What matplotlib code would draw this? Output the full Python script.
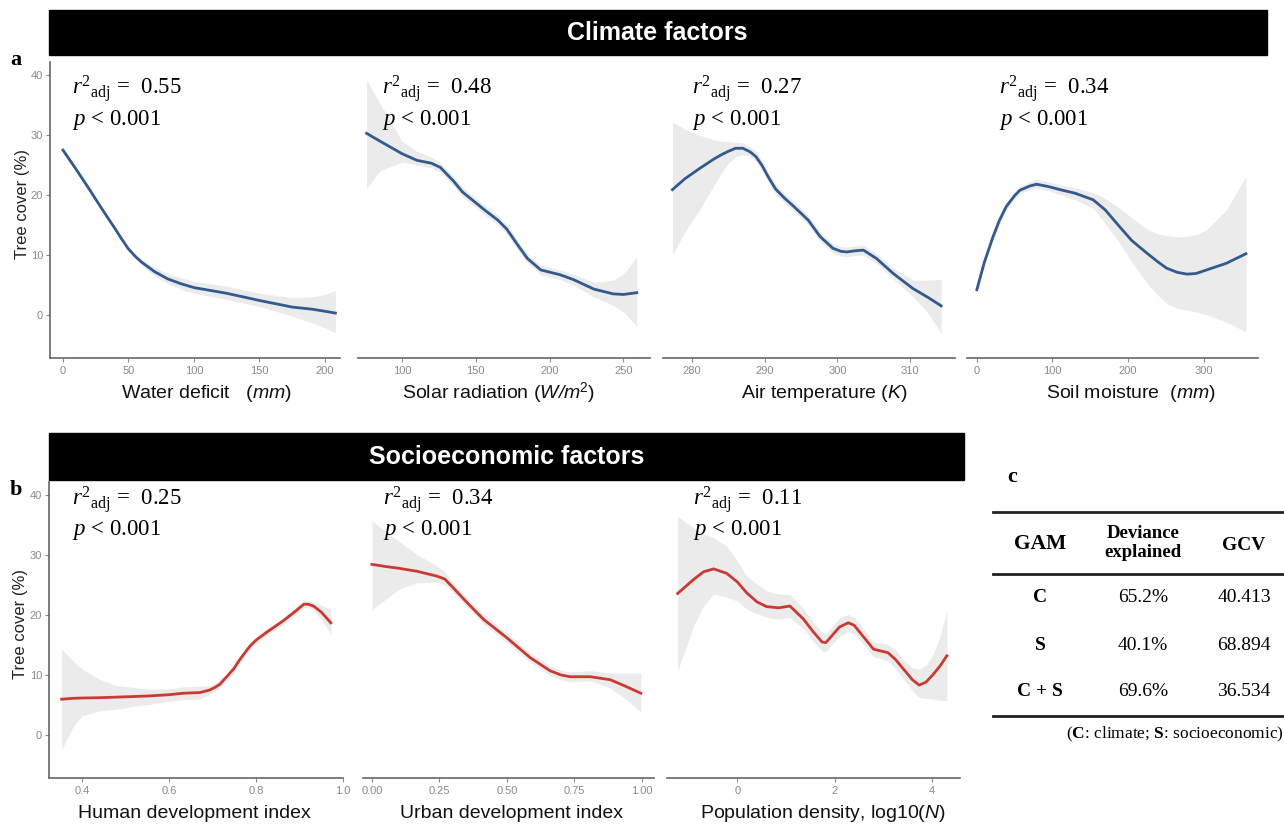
import numpy as np
import matplotlib.pyplot as plt
from matplotlib.patches import Rectangle
from matplotlib.lines import Line2D

plt.rcParams['font.family'] = ['Liberation Sans', 'DejaVu Sans']
plt.rcParams['mathtext.fontset'] = 'custom'
plt.rcParams['mathtext.rm'] = 'Liberation Serif'
plt.rcParams['mathtext.it'] = 'Liberation Serif:italic'
plt.rcParams['mathtext.bf'] = 'Liberation Serif:bold'
plt.rcParams['mathtext.sf'] = 'Liberation Sans:italic'

# ---- data (GAM smooths, fit and 95% band) ----
water_x = [0, 10, 20, 30, 40, 45, 50, 55, 60, 70, 80, 90, 100, 125, 150, 175, 190, 200, 208]
water_fit = [27.5, 24.3, 21.0, 17.6, 14.3, 12.6, 11.0, 9.8, 8.8, 7.2, 6.0, 5.2, 4.55, 3.6, 2.4, 1.3, 0.95, 0.6, 0.3]
water_lo = [27.0, 23.9, 20.65, 17.3, 14.0, 12.3, 10.65, 9.4, 8.3, 6.5, 5.2, 4.3, 3.6, 2.6, 1.4, -0.2, -1.3, -2.2, -3.0]
water_hi = [28.0, 24.7, 21.35, 17.9, 14.6, 12.9, 11.35, 10.2, 9.3, 7.9, 6.9, 6.2, 5.6, 4.8, 3.6, 2.9, 3.0, 3.4, 4.1]

solar_x = [76, 85, 100, 110, 120, 126, 135, 141, 150, 157, 165, 171, 178, 185, 194, 207, 216, 230, 243, 250, 259]
solar_fit = [30.3, 29.0, 26.9, 25.8, 25.3, 24.6, 22.3, 20.5, 18.7, 17.3, 15.8, 14.3, 11.8, 9.4, 7.5, 6.7, 5.9, 4.3, 3.5, 3.4, 3.7]
solar_lo = [21.1, 24.0, 25.5, 25.0, 24.5, 23.8, 21.5, 19.7, 17.9, 16.5, 15.0, 13.5, 11.0, 8.6, 6.7, 5.9, 5.0, 3.0, 1.6, 0.5, -1.9]
solar_hi = [39.2, 35.3, 29.0, 27.3, 26.3, 25.4, 23.1, 21.3, 19.5, 18.1, 16.6, 15.1, 12.6, 10.2, 8.3, 7.5, 6.8, 5.4, 5.8, 6.8, 9.7]

temp_x = [277.3, 279, 281, 283, 284, 285, 286, 287, 288, 288.8, 289.6, 290.5, 291.5, 292.8, 294, 296,
          297.6, 299.4, 300.5, 301.3, 302.5, 303.6, 305.4, 307.7, 310.4, 312.5, 314.3]
temp_fit = [20.9, 22.7, 24.4, 26.0, 26.7, 27.3, 27.8, 27.8, 27.2, 26.4, 25.0, 23.0, 21.0, 19.4, 18.1, 15.8,
            13.1, 11.1, 10.6, 10.5, 10.7, 10.8, 9.4, 6.9, 4.4, 2.9, 1.5]
temp_lo = [10.0, 13.8, 17.5, 21.6, 23.6, 25.3, 26.4, 26.8, 26.4, 25.6, 24.2, 22.2, 20.2, 18.6, 17.3, 15.0,
           12.3, 10.3, 9.8, 9.7, 9.9, 10.0, 8.6, 6.0, 3.1, 0.3, -3.1]
temp_hi = [32.2, 31.0, 30.0, 29.2, 29.0, 28.9, 28.8, 28.7, 28.1, 27.2, 25.8, 23.8, 21.8, 20.2, 18.9, 16.6,
           13.9, 11.9, 11.4, 11.3, 11.5, 11.6, 10.2, 7.8, 5.8, 5.8, 5.9]

soil_x = [0, 10, 21.6, 30, 39, 50, 57, 70, 79, 95, 110, 130, 154, 170, 189, 205, 225, 240, 251, 265, 278, 290, 304, 330, 356]
soil_fit = [4.2, 8.8, 13.1, 15.8, 18.1, 19.9, 20.8, 21.5, 21.8, 21.4, 20.9, 20.3, 19.2, 17.5, 14.7, 12.4, 10.3, 8.8, 7.8, 7.1, 6.8, 6.9, 7.5, 8.6, 10.2]
soil_lo = [3.6, 8.2, 12.5, 15.2, 17.5, 19.3, 20.2, 20.9, 21.1, 20.7, 20.1, 19.2, 17.8, 15.2, 12.0, 8.8, 5.3, 3.2, 1.9, 1.1, 0.8, 0.5, 0.0, -1.2, -2.8]
soil_hi = [4.8, 9.4, 13.7, 16.4, 18.7, 20.5, 21.4, 22.2, 22.6, 22.2, 21.7, 21.2, 20.4, 19.4, 17.8, 16.2, 14.3, 13.5, 13.2, 13.0, 13.1, 13.4, 14.2, 17.5, 23.1]

hdi_x = [0.353, 0.38, 0.4, 0.44, 0.48, 0.52, 0.556, 0.6, 0.633, 0.671, 0.694, 0.705, 0.717, 0.73, 0.748,
         0.765, 0.786, 0.80, 0.824, 0.862, 0.89, 0.910, 0.92, 0.932, 0.95, 0.972]
hdi_fit = [5.95, 6.1, 6.15, 6.2, 6.3, 6.4, 6.5, 6.7, 6.95, 7.06, 7.5, 7.9, 8.45, 9.5, 10.95,
           12.8, 14.8, 15.8, 17.1, 19.0, 20.6, 21.8, 21.8, 21.5, 20.5, 18.7]
hdi_lo = [-2.4, 1.4, 3.2, 4.0, 4.3, 4.8, 5.1, 5.6, 5.9, 5.95, 6.8, 7.2, 7.8, 8.9, 10.3,
          12.2, 14.2, 15.2, 16.5, 18.4, 20.0, 21.2, 21.2, 20.8, 19.3, 16.8]
hdi_hi = [14.3, 12.3, 10.95, 9.3, 8.2, 7.9, 7.6, 7.7, 8.0, 8.1, 8.2, 8.6, 9.1, 10.1, 11.6,
          13.4, 15.4, 16.4, 17.7, 19.6, 21.2, 22.4, 22.4, 22.2, 21.6, 21.0]

udi_x = [0.0, 0.05, 0.1, 0.167, 0.24, 0.27, 0.30, 0.352, 0.413, 0.5, 0.586, 0.66, 0.70, 0.734, 0.81, 0.883, 0.94, 0.996]
udi_fit = [28.45, 28.1, 27.8, 27.3, 26.5, 26.0, 24.6, 22.1, 19.3, 16.2, 12.9, 10.7, 10.0, 9.7, 9.7, 9.2, 8.1, 6.95]
udi_lo = [20.9, 22.6, 24.3, 25.4, 25.5, 25.0, 23.8, 21.3, 18.5, 15.4, 12.1, 9.9, 9.2, 8.9, 9.0, 7.8, 6.0, 3.8]
udi_hi = [35.7, 34.0, 32.3, 30.1, 28.2, 27.2, 25.4, 22.9, 20.1, 17.0, 13.7, 11.5, 10.8, 10.5, 10.7, 10.3, 10.3, 10.3]

pop_x = [-1.23, -0.9, -0.7, -0.49, -0.22, 0.0, 0.19, 0.4, 0.6, 0.85, 1.08, 1.36, 1.55, 1.74, 1.82, 1.94,
         2.1, 2.28, 2.4, 2.52, 2.8, 2.95, 3.1, 3.25, 3.42, 3.6, 3.74, 3.88, 4.03, 4.17, 4.31]
pop_fit = [23.6, 25.95, 27.2, 27.7, 26.95, 25.5, 23.7, 22.2, 21.4, 21.2, 21.5, 19.3, 17.3, 15.5, 15.4, 16.5,
           18.0, 18.7, 18.3, 17.1, 14.3, 14.0, 13.7, 12.6, 10.95, 9.2, 8.3, 8.8, 10.1, 11.5, 13.2]
pop_lo = [10.7, 18.2, 21.5, 23.5, 23.0, 22.3, 21.0, 20.2, 19.6, 19.3, 19.6, 17.7, 15.7, 14.0, 13.9, 15.0,
          16.4, 17.3, 16.8, 15.8, 13.0, 12.7, 12.3, 11.0, 9.3, 7.4, 6.2, 6.1, 6.0, 5.8, 5.7]
pop_hi = [36.5, 34.5, 33.6, 32.9, 31.5, 29.0, 26.5, 25.2, 24.0, 23.5, 23.45, 21.0, 19.0, 17.1, 16.9, 18.0,
          19.5, 20.1, 19.6, 18.5, 15.5, 15.3, 15.1, 14.2, 12.5, 11.2, 10.95, 11.6, 13.5, 16.5, 20.7]

r2_values = ['0.55', '0.48', '0.27', '0.34', '0.25', '0.34', '0.11']

gam_models = ['C', 'S', 'C + S']
gam_deviance = ['65.2%', '40.1%', '69.6%']
gam_gcv = ['40.413', '68.894', '36.534']

# ---- layout (pixel boxes) ----
W, H = 1284, 825
fig = plt.figure(figsize=(W / 100, H / 100), dpi=100)


def rect(l, r, t, b):
    return [l / W, 1 - b / H, (r - l) / W, (b - t) / H]


blue = '#34598c'
red = '#c93a32'
band = '#ebebeb'
axcol = '#666666'
tickcol = '#8a8a8a'
ylim = (-7.2, 42.2)

panels = [
    # x, fit, lo, hi, color, box(l,r,t,b), xlim, ticks, ticklabels, xlabel, label_xc, ann_dx
    (water_x, water_fit, water_lo, water_hi, blue, (50, 340, 62, 358), (-9.9, 211.5),
     [0, 50, 100, 150, 200], None, r'Water deficit   ($\mathsf{mm}$)', 0.541, 22),
    (solar_x, solar_fit, solar_lo, solar_hi, blue, (358, 650, 62, 358), (70.2, 268),
     [100, 150, 200, 250], None, r'Solar radiation ($\mathsf{W/m}^{\mathregular{2}}$)', 0.483, 24),
    (temp_x, temp_fit, temp_lo, temp_hi, blue, (663, 955, 62, 358), (276.0, 316.2),
     [280, 290, 300, 310], None, r'Air temperature ($\mathsf{K}$)', 0.553, 29),
    (soil_x, soil_fit, soil_lo, soil_hi, blue, (967, 1258, 62, 358), (-13, 372),
     [0, 100, 200, 300], None, r'Soil moisture  ($\mathsf{mm}$)', 0.562, 32),
    (hdi_x, hdi_fit, hdi_lo, hdi_hi, red, (49, 343, 482, 778), (0.324, 1.0),
     [0.4, 0.6, 0.8, 1.0], ['0.4', '0.6', '0.8', '1.0'], 'Human development index', 0.493, 23),
    (udi_x, udi_fit, udi_lo, udi_hi, red, (363, 654, 482, 778), (-0.033, 1.045),
     [0, 0.25, 0.5, 0.75, 1.0], ['0.00', '0.25', '0.50', '0.75', '1.00'], 'Urban development index', 0.509, 20),
    (pop_x, pop_fit, pop_lo, pop_hi, red, (667, 960, 482, 778), (-1.45, 4.58),
     [0, 2, 4], None, r'Population density, log10($\mathsf{N}$)', 0.531, 26),
]

for i, (x, fit, lo, hi, col, box, xlim, ticks, tlabels, xlabel, lxc, adx) in enumerate(panels):
    l, r, t, b = box
    ax = fig.add_axes(rect(l, r, t, b))
    ax.fill_between(x, lo, hi, color=band, lw=0)
    ax.plot(x, fit, color=col, lw=2, solid_joinstyle='round')
    ax.set_xlim(*xlim)
    ax.set_ylim(*ylim)
    for s in ['top', 'right']:
        ax.spines[s].set_visible(False)
    ax.spines['bottom'].set_color(axcol)
    ax.spines['bottom'].set_linewidth(1.2)
    ax.set_xticks(ticks)
    if tlabels is not None:
        ax.set_xticklabels(tlabels)
    ax.tick_params(axis='x', colors=tickcol, labelsize=8, length=3, width=0.8, pad=3)
    first = i in (0, 4)
    if first:
        ax.spines['left'].set_color(axcol)
        ax.spines['left'].set_linewidth(1.2)
        ax.set_yticks([0, 10, 20, 30, 40])
        ax.tick_params(axis='y', colors=tickcol, labelsize=8, length=3, width=0.8, pad=2)
        ax.set_ylabel('Tree cover (%)', fontsize=12, color='#222222')
        ax.yaxis.set_label_coords(-28 / (r - l), 0.52)
        ax.yaxis.label.set_va('center')
    else:
        ax.spines['left'].set_visible(False)
        ax.set_yticks([])
    ax.set_xlabel(xlabel, fontsize=14, color='#111111')
    ax.xaxis.set_label_coords(lxc, -35 / (b - t))
    ax.xaxis.label.set_va('center')

    top_row = i < 4
    y1 = 0.909 if top_row else 0.94
    y2 = 0.804 if top_row else 0.838
    ax.text(adx / (r - l), y1, r'$r^2{}_{\mathrm{adj}}$' + ' =  ' + r2_values[i],
            transform=ax.transAxes, fontsize=16.5, family='Liberation Serif',
            va='center', ha='left')
    ax.text(adx / (r - l), y2, r'$p$' + ' < 0.001', transform=ax.transAxes,
            fontsize=16.5, family='Liberation Serif', va='center', ha='left')

# ---- header bars ----
fig.add_artist(Rectangle((49 / W, 1 - 55 / H), (1267 - 49) / W, 45 / H,
                         transform=fig.transFigure, color='black'))
fig.text(657 / W, 1 - 33 / H, 'Climate factors', color='white', fontsize=18,
         fontweight='bold', ha='center', va='center')
fig.add_artist(Rectangle((49 / W, 1 - 480 / H), (964 - 49) / W, 47 / H,
                         transform=fig.transFigure, color='black'))
fig.text(507 / W, 1 - 457 / H, 'Socioeconomic factors', color='white', fontsize=18,
         fontweight='bold', ha='center', va='center')

# ---- panel letters ----
for letter, (px, py) in zip(['a', 'b', 'c'], [(16, 60), (16, 490), (1012, 477)]):
    fig.text(px / W, 1 - py / H, letter, fontsize=16, fontweight='bold',
             family='Liberation Serif', ha='center', va='center')

# ---- table c ----
serif = 'Liberation Serif'
for yy in [512, 574, 716]:
    fig.add_artist(Line2D([993 / W, 1284 / W], [1 - yy / H, 1 - yy / H],
                          transform=fig.transFigure, color='#222222', lw=2.0))
cols = [1040, 1143, 1244]
fig.text(cols[0] / W, 1 - 544 / H, 'GAM', family=serif, fontsize=15.5,
         fontweight='bold', ha='center', va='center')
fig.text(cols[1] / W, 1 - 543 / H, 'Deviance\nexplained', family=serif, fontsize=13.5,
         fontweight='bold', ha='center', va='center', linespacing=1.1)
fig.text(cols[2] / W, 1 - 545 / H, 'GCV', family=serif, fontsize=14,
         fontweight='bold', ha='center', va='center')
for j, yy in enumerate([598, 645, 692]):
    fig.text(cols[0] / W, 1 - yy / H, gam_models[j], family=serif, fontsize=14,
             fontweight='bold', ha='center', va='center')
    fig.text(cols[1] / W, 1 - yy / H, gam_deviance[j], family=serif, fontsize=14,
             ha='center', va='center')
    fig.text(cols[2] / W, 1 - yy / H, gam_gcv[j], family=serif, fontsize=14,
             ha='center', va='center')
fig.text(1284 / W, 1 - 734 / H, r'($\mathbf{C}$: climate; $\mathbf{S}$: socioeconomic)',
         family=serif, fontsize=12.5, ha='right', va='center')

fig.savefig('out.png', dpi=100, facecolor='white')
